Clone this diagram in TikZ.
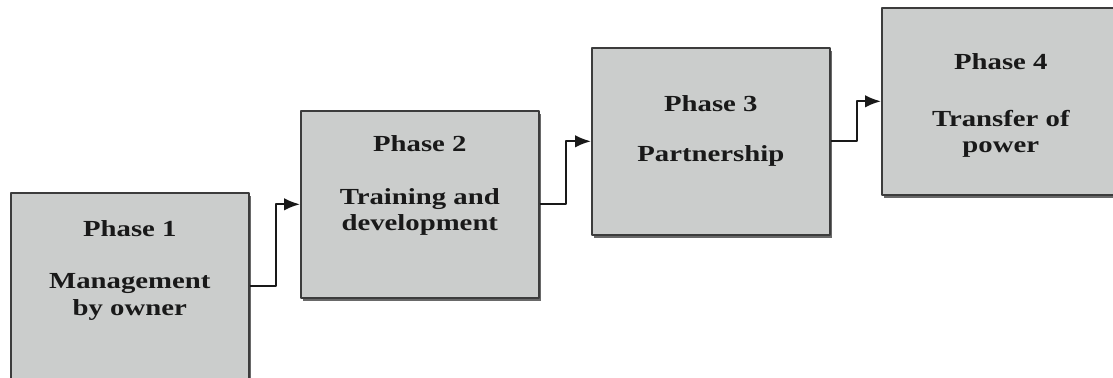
\documentclass[tikz,border=0pt]{standalone}
\usepackage{fontspec}
\setmainfont{Liberation Serif}[FakeStretch=1.25]
\usepackage[x11names, svgnames, rgb]{xcolor}
\usepackage{tikz}
\usetikzlibrary{arrows.meta,shadows}
\definecolor{boxfill}{RGB}{203,205,204}
\definecolor{boxline}{RGB}{60,60,60}
\definecolor{boxshade}{RGB}{105,105,105}
\tikzset{
  phasebox/.style={draw=boxline, fill=boxfill, line width=1.6bp, inner sep=0pt,
    minimum width=238bp, minimum height=187bp, anchor=north west,
    drop shadow={shadow xshift=2.5bp, shadow yshift=-3bp, fill=boxshade, opacity=1}},
  phasetext/.style={anchor=north, align=center, inner sep=0pt, text=black!90,
    font=\fontsize{23bp}{26.5bp}\selectfont\bfseries},
}

\begin{document}
\begin{tikzpicture}[>={Latex[length=16bp,width=12.5bp]},line join=bevel,]
  \pgfsetlinewidth{2bp}
  \useasboundingbox (0bp,0bp) rectangle (1113bp,378bp);
%%
  % Node: p1
  \node [phasebox] (p1) at (10bp,186bp) {};
  \node [phasetext] (t1) at ([yshift=-28bp]p1.north) {Phase 1\\[25.5bp]Management\\by owner};
  % Node: p2
  \node [phasebox] (p2) at (300bp,268bp) {};
  \node [phasetext] (t2) at ([yshift=-24.5bp]p2.north) {Phase 2\\[26.5bp]Training and\\development};
  % Node: p3
  \node [phasebox] (p3) at (591bp,331bp) {};
  \node [phasetext] (t3) at ([yshift=-47.5bp]p3.north) {Phase 3\\[23.5bp]Partnership};
  % Node: p4
  \node [phasebox] (p4) at (881bp,371bp) {};
  \node [phasetext] (t4) at ([yshift=-45.5bp]p4.north) {Phase 4\\[30.5bp]Transfer of\\power};
%
  % Edge: p1 -> p2
  \draw [->, draw=black!90] (p1.east) -- ++(26bp,0bp) |- (p2.west);
  % Edge: p2 -> p3
  \draw [->, draw=black!90] (p2.east) -- ++(26.5bp,0bp) |- (p3.west);
  % Edge: p3 -> p4
  \draw [->, draw=black!90] (p3.east) -- ++(26bp,0bp) |- (p4.west);
%
\end{tikzpicture}
\end{document}
